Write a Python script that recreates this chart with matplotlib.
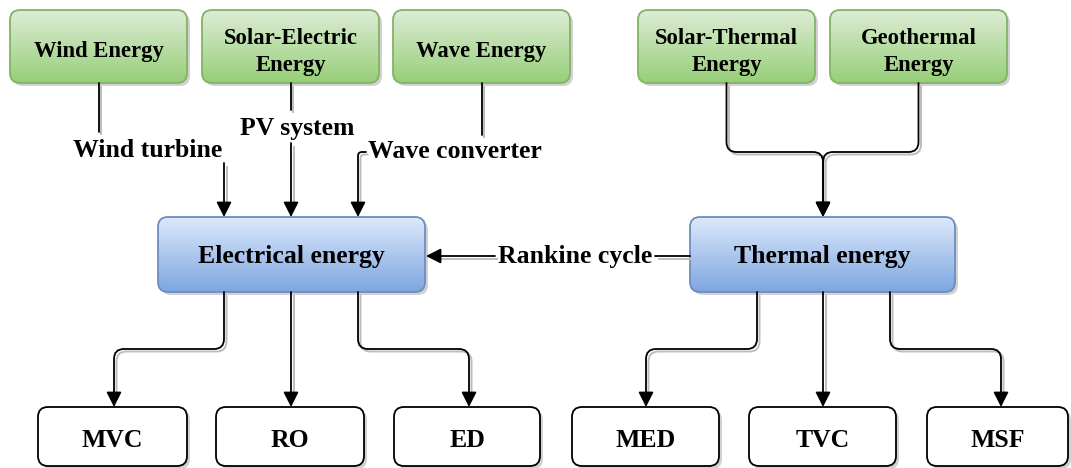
import numpy as np
import matplotlib
matplotlib.use('Agg')
import matplotlib.pyplot as plt
from matplotlib.patches import FancyBboxPatch, FancyArrowPatch, PathPatch
from matplotlib.path import Path
from matplotlib.colors import LinearSegmentedColormap

# node labels
source_labels = ['Wind Energy', 'Solar-Electric\nEnergy', 'Wave Energy',
                 'Solar-Thermal\nEnergy', 'Geothermal\nEnergy']
energy_labels = ['Electrical energy', 'Thermal energy']
process_labels = ['MVC', 'RO', 'ED', 'MED', 'TVC', 'MSF']
edge_labels = ['Wind turbine', 'PV system', 'Wave converter', 'Rankine cycle']

# layout (pixels, y downwards)
source_x = [10, 202, 393, 638, 830]
source_w = 177
source_y, source_h = 10, 73
energy_x = [158, 690]
energy_w = [267, 265]
energy_y, energy_h = 217, 75
process_x = [38, 216, 394, 572, 749, 927]
process_w = [149, 148, 146, 147, 147, 141]
process_y, process_h = 407, 59

FONT = 'Liberation Serif'
W, H = 1071, 468

fig = plt.figure(figsize=(W / 100, H / 100), dpi=100)
ax = fig.add_axes([0, 0, 1, 1])
ax.axis('off')


def box(x0, y0, w, h, top=None, bottom=None, edge='black', fc='white', r=10):
    style = f'round,pad=0,rounding_size={r}'
    sh = FancyBboxPatch((x0 + 3, y0 + 3), w, h, boxstyle=style, fc='#9a9a9a',
                        ec='none', alpha=0.45, zorder=1)
    ax.add_patch(sh)
    p = FancyBboxPatch((x0, y0), w, h, boxstyle=style, fc=fc if top is None else 'none',
                       ec=edge, lw=1.3, zorder=3)
    ax.add_patch(p)
    if top is not None:
        cmap = LinearSegmentedColormap.from_list('g', [top, bottom])
        grad = np.linspace(0, 1, 100).reshape(-1, 1)
        im = ax.imshow(grad, cmap=cmap, extent=(x0, x0 + w, y0 + h, y0),
                       aspect='auto', origin='upper', zorder=2)
        im.set_clip_path(p)


def box_text(cx, cy, label, size, off, step):
    lines = label.split('\n')
    n = len(lines)
    for i, t in enumerate(lines):
        yb = cy + off + (i - (n - 1) / 2) * step
        ax.text(cx, yb, t, ha='center', va='baseline', fontsize=size,
                fontfamily=FONT, fontweight='bold', zorder=5)


def rounded(pts, r=10):
    verts = [pts[0]]
    codes = [Path.MOVETO]
    for i in range(1, len(pts) - 1):
        p0, p1, p2 = (np.array(pts[i - 1], float), np.array(pts[i], float),
                      np.array(pts[i + 1], float))
        l1 = np.linalg.norm(p1 - p0)
        l2 = np.linalg.norm(p2 - p1)
        rr = min(r, l1 / 2, l2 / 2)
        a = p1 - (p1 - p0) / l1 * rr
        b = p1 + (p2 - p1) / l2 * rr
        verts += [tuple(a), tuple(p1), tuple(b)]
        codes += [Path.LINETO, Path.CURVE3, Path.CURVE3]
    verts.append(pts[-1])
    codes.append(Path.LINETO)
    return Path(verts, codes)


def connector(pts, arrow=True, r=10):
    # light shadow under the line
    sp = [(x + 2.5, y + 2.5) for x, y in pts]
    if arrow:
        (xa, ya), (xb, yb) = sp[-2], sp[-1]
        d = np.hypot(xb - xa, yb - ya)
        sp[-1] = (xb - (xb - xa) / d * 10, yb - (yb - ya) / d * 10)
    ax.add_patch(PathPatch(rounded(sp, r), fill=False, ec='#bdbdbd', lw=1.4, zorder=3))
    style = '-|>,head_length=0.75,head_width=0.38' if arrow else '-'
    ax.add_patch(FancyArrowPatch(path=rounded(pts, r), arrowstyle=style,
                                 mutation_scale=12, color='black', lw=1.3,
                                 shrinkA=0, shrinkB=0, zorder=4))


# source boxes (green)
for x0, lab in zip(source_x, source_labels):
    box(x0, source_y, source_w, source_h, '#dcecd5', '#97cf78', edge='#82b366')
    box_text(x0 + source_w / 2, source_y + source_h / 2, lab, 16.3, 11, 28)

# energy boxes (blue)
for x0, w, lab in zip(energy_x, energy_w, energy_labels):
    box(x0, energy_y, w, energy_h, '#dce9fc', '#7ea6e0', edge='#6c8ebf')
    box_text(x0 + w / 2, energy_y + energy_h / 2, lab, 18.5, 8.5, 28)

# process boxes (white)
for x0, w, lab in zip(process_x, process_w, process_labels):
    box(x0, process_y, w, process_h)
    box_text(x0 + w / 2, process_y + process_h / 2, lab, 18.5, 10.5, 28)

src_c = [x + source_w / 2 for x in source_x]
e_top = energy_y
e_bot = energy_y + energy_h
p_top = process_y

# electric sources -> electrical energy
connector([(src_c[0], source_y + source_h), (src_c[0], 132)], arrow=False)
connector([(224, 163), (224, e_top)])
connector([(src_c[1], source_y + source_h), (src_c[1], 110)], arrow=False)
connector([(291, 143), (291, e_top)])
connector([(src_c[2], source_y + source_h), (src_c[2], 135)], arrow=False)
connector([(366, 152), (358, 152), (358, e_top)], r=7)

lab_kw = dict(ha='center', va='baseline', fontsize=18.5, fontfamily=FONT,
              fontweight='bold', zorder=5)
ax.text(148, 157, edge_labels[0], **lab_kw)
ax.text(297, 135, edge_labels[1], **lab_kw)
ax.text(455, 158, edge_labels[2], **lab_kw)

# thermal sources -> thermal energy
ecx_t = 823
connector([(src_c[3], source_y + source_h), (src_c[3], 152), (ecx_t, 152), (ecx_t, e_top)])
connector([(src_c[4], source_y + source_h), (src_c[4], 152), (ecx_t, 152), (ecx_t, e_top)])

# Rankine cycle
connector([(495, 256), (energy_x[0] + energy_w[0] + 1, 256)])
connector([(energy_x[1], 256), (655, 256)], arrow=False)
ax.text(575, 263, edge_labels[3], **lab_kw)

# energy -> processes
outlets = [224, 291, 358, 757, 823, 890]
p_cent = [x + w / 2 for x, w in zip(process_x, process_w)]
targets = [114, 291, 469, 646, 823, 1001]
for xo, xt in zip(outlets, targets):
    if abs(xo - xt) < 2:
        connector([(xo, e_bot), (xo, p_top)])
    else:
        connector([(xo, e_bot), (xo, 349), (xt, 349), (xt, p_top)])

ax.set_xlim(0, W)
ax.set_ylim(H, 0)
fig.savefig('out.png', dpi=100)
